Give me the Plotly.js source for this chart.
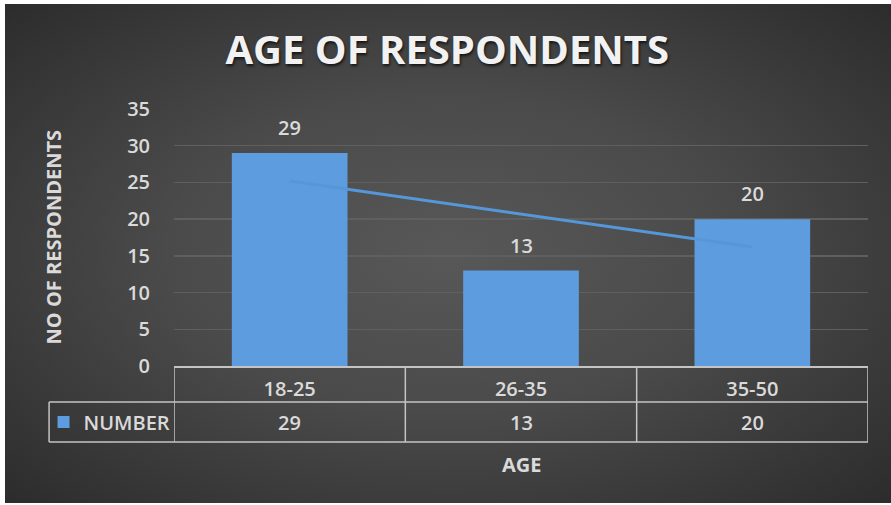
<!DOCTYPE html>
<html><head><meta charset="utf-8">
<script src="https://cdn.plot.ly/plotly-3.0.1.min.js"></script>
<style>
html,body{margin:0;padding:0;background:#fff;}
#wrap{position:relative;width:891px;height:505px;overflow:hidden;}
#bg{position:absolute;left:5px;top:4px;width:886px;height:499px;
background:radial-gradient(ellipse at 50% 50%, #585858 0%, #4a4a4a 45%, #2c2c2c 100%);}
#chart{position:absolute;left:0;top:0;width:891px;height:505px;}
</style></head>
<body><div id="wrap"><div id="bg"></div><div id="chart"></div></div>
<script>
const categories = ['18-25', '26-35', '35-50'];
const numberValues = [29, 13, 20];
const trendValues = [25.2, 20.7, 16.2];
const seriesName = 'NUMBER';
const yTicks = [0, 5, 10, 15, 20, 25, 30, 35];

const txt = '#dadada';
const grid = '#c4c4c4';
const F = 'Open Sans, Lato, sans-serif';
const W = 600;

const bars = {
  type: 'bar', x: categories, y: numberValues, name: seriesName,
  marker: {color: '#5d9ddf', line: {width: 0}},
  showlegend: true, hoverinfo: 'x+y'
};
const trend = {
  type: 'scatter', mode: 'lines', x: categories, y: trendValues,
  line: {color: '#5597d8', width: 3}, showlegend: false, hoverinfo: 'skip'
};

const shapes = [];
const line = {color: grid, width: 1.5};
[-0.5, 0.5, 1.5, 2.5].forEach(v => shapes.push({type: 'line', xref: 'x', yref: 'paper', x0: v, x1: v, y0: 0, y1: -0.296, line}));
shapes.push({type: 'line', xref: 'paper', yref: 'paper', x0: -0.18, x1: 1, y0: -0.140, y1: -0.140, line});
shapes.push({type: 'line', xref: 'paper', yref: 'paper', x0: -0.18, x1: 1, y0: -0.296, y1: -0.296, line});
shapes.push({type: 'line', xref: 'paper', yref: 'paper', x0: -0.18, x1: -0.18, y0: -0.140, y1: -0.296, line});

const annotations = [];
categories.forEach((c, i) => annotations.push({
  x: c, xref: 'x', y: numberValues[i], yref: 'y', text: String(numberValues[i]),
  showarrow: false, yanchor: 'bottom', yshift: 10, font: {family: F, size: 20, color: txt, weight: W}
}));
categories.forEach((c, i) => annotations.push({
  x: c, xref: 'x', y: -0.218, yref: 'paper', text: String(numberValues[i]),
  showarrow: false, font: {family: F, size: 20, color: txt, weight: W}, yanchor: 'middle'
}));
annotations.push({x: 0.5, xref: 'paper', y: -0.385, yref: 'paper', text: '<b>AGE</b>',
  showarrow: false, font: {family: F, size: 20, color: txt}, yanchor: 'middle'});
annotations.push({x: -0.173, xref: 'paper', y: 0.5, yref: 'paper', text: '<b>NO OF RESPONDENTS</b>',
  textangle: -90, showarrow: false, font: {family: F, size: 20, color: txt}, xanchor: 'center', yanchor: 'middle'});

const layout = {
  width: 891, height: 505,
  margin: {l: 174, r: 23, t: 109, b: 139},
  paper_bgcolor: 'rgba(0,0,0,0)', plot_bgcolor: 'rgba(0,0,0,0)',
  title: {text: '<b>AGE OF RESPONDENTS</b>', x: 0.502, xanchor: 'center', y: 0.901, yanchor: 'middle', yref: 'container',
    font: {family: F, size: 40, color: '#f2f2f2', shadow: '1px 2px 3px rgba(0,0,0,0.7)'}},
  bargap: 0.5,
  xaxis: {type: 'category', showgrid: false, zeroline: false, showline: true, linecolor: grid, linewidth: 1.5,
    ticks: 'outside', ticklen: 4, tickcolor: 'rgba(0,0,0,0)', tickfont: {family: F, size: 20, color: txt, weight: W},
    range: [-0.5, 2.5], fixedrange: true},
  yaxis: {range: [0, 35], tickvals: yTicks, showgrid: true, gridcolor: '#5f5f5f', gridwidth: 1.5, zeroline: false,
    ticks: 'outside', ticklen: 19, tickcolor: 'rgba(0,0,0,0)', tickfont: {family: F, size: 20, color: txt, weight: W}, fixedrange: true},
  showlegend: true,
  legend: {x: -0.188, xanchor: 'left', y: -0.218, yanchor: 'middle', bgcolor: 'rgba(0,0,0,0)',
    font: {family: F, size: 20, color: txt, weight: W}, itemwidth: 30, tracegroupgap: 0},
  shapes, annotations
};

Plotly.newPlot('chart', [bars, trend], layout, {displayModeBar: false, staticPlot: true});
</script></body></html>
